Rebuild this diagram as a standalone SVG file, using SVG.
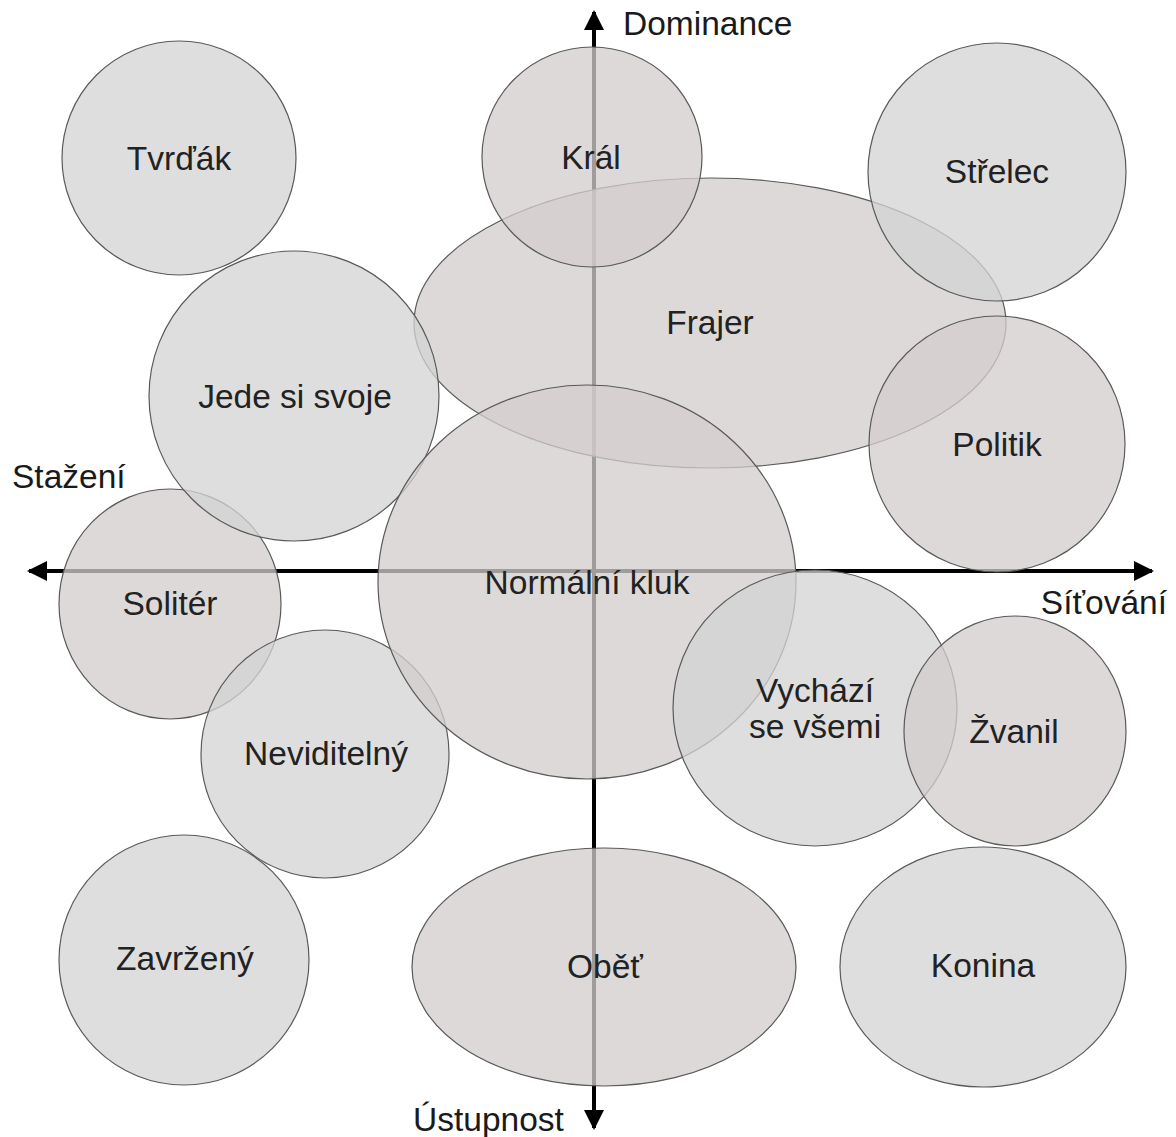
<svg xmlns="http://www.w3.org/2000/svg" width="1176" height="1137" viewBox="0 0 1176 1137">
<style>
.n{fill:#d3cdcd;fill-opacity:0.76;stroke:#5a5a5a;stroke-width:1.2}
.g{fill:#d4d4d4;fill-opacity:0.76;stroke:#5a5a5a;stroke-width:1.2}
.t{font-family:"Liberation Sans",Arial,sans-serif;font-size:33.5px;fill:#222;text-anchor:middle}
.a{font-family:"Liberation Sans",Arial,sans-serif;font-size:33.5px;fill:#1a1a1a}
.ax{stroke:#000;stroke-width:4;fill:none}
</style>
<defs>
<marker id="arr" viewBox="0 0 10 10" refX="9" refY="5" markerWidth="5" markerHeight="5" markerUnits="strokeWidth" orient="auto">
<path d="M0,0 L10,5 L0,10 z" fill="#000"/>
</marker>
</defs>
<g id="connectors">
<line class="ax" x1="594" y1="571" x2="594" y2="12" marker-end="url(#arr)"/>
<line class="ax" x1="594" y1="571" x2="594" y2="1128" marker-end="url(#arr)"/>
<line class="ax" x1="594" y1="571" x2="29" y2="571" marker-end="url(#arr)"/>
<line class="ax" x1="594" y1="571" x2="1152" y2="571" marker-end="url(#arr)"/>
</g>
<g id="axis-labels">
<text class="a" x="623" y="35">Dominance</text>
<text class="a" x="12" y="488">Stažení</text>
<text class="a" x="1167" y="614" text-anchor="end">Síťování</text>
<text class="a" x="413" y="1131">Ústupnost</text>
</g>
<g id="tvrdak"><circle class="g" cx="179" cy="158" r="117"/><text class="t" x="179" y="170">Tvrďák</text></g>
<g id="frajer"><ellipse class="n" cx="710" cy="323" rx="296" ry="145"/><text class="t" x="710" y="334">Frajer</text></g>
<g id="kral"><circle class="n" cx="592" cy="157" r="110"/><text class="t" x="591" y="169">Král</text></g>
<g id="strelec"><circle class="g" cx="997" cy="172" r="129"/><text class="t" x="997" y="183">Střelec</text></g>
<g id="politik"><circle class="n" cx="997" cy="444" r="128"/><text class="t" x="997" y="456">Politik</text></g>
<g id="soliter"><ellipse class="n" cx="170" cy="604" rx="111" ry="115"/><text class="t" x="170" y="615">Solitér</text></g>
<g id="jede"><circle class="g" cx="294" cy="396" r="145"/><text class="t" x="295" y="408">Jede si svoje</text></g>
<g id="neviditelny"><circle class="g" cx="325" cy="754" r="124"/><text class="t" x="326" y="765">Neviditelný</text></g>
<g id="normalni"><ellipse class="n" cx="587" cy="582" rx="209" ry="197"/><text class="t" x="587" y="594">Normální kluk</text></g>
<g id="vychazi"><ellipse class="g" cx="815" cy="708" rx="142" ry="138"/><text class="t" x="815" y="702">Vychází</text><text class="t" x="815" y="738">se všemi</text></g>
<g id="zvanil"><ellipse class="n" cx="1015" cy="731" rx="111" ry="115"/><text class="t" x="1014" y="743">Žvanil</text></g>
<g id="zavrzeny"><circle class="g" cx="184" cy="960" r="125"/><text class="t" x="185" y="970">Zavržený</text></g>
<g id="obet"><ellipse class="n" cx="604" cy="967" rx="192" ry="119"/><text class="t" x="605" y="978">Oběť</text></g>
<g id="konina"><ellipse class="g" cx="983" cy="967" rx="143" ry="120"/><text class="t" x="983" y="977">Konina</text></g>
</svg>
